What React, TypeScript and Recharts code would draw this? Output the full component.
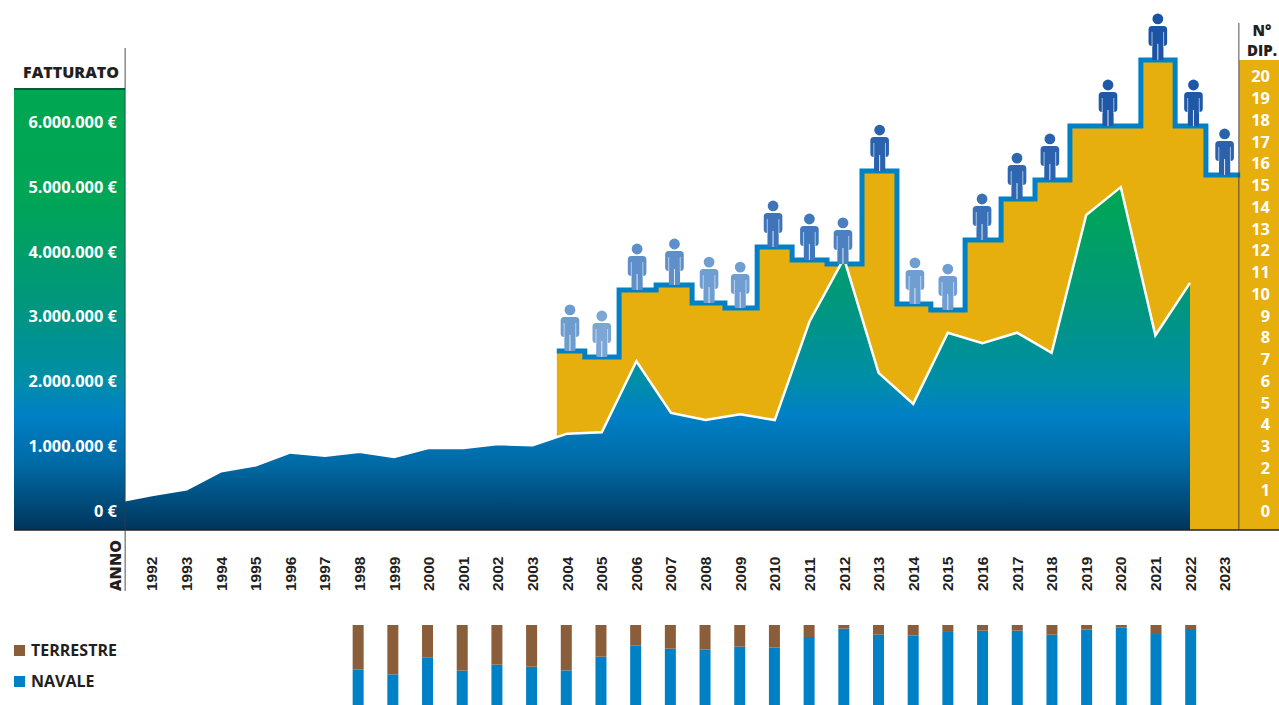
import React from 'react'
import {
  Area,
  Bar,
  BarChart,
  ComposedChart,
  Line,
  XAxis,
  YAxis,
} from 'recharts'

const FONT = '"Open Sans", sans-serif'
const INK = '#231f20'
const YELLOW = '#e6af0e'
const BLUE = '#0081c6'
const BROWN = '#8a5d3b'

// fatturato, in euro, per anno (il primo punto parte dall'asse, prima del 1992)
const fatturatoAnni = [
  1991.22, 1992, 1993, 1994, 1995, 1996, 1997, 1998, 1999, 2000, 2001, 2002, 2003, 2004, 2005, 2006,
  2007, 2008, 2009, 2010, 2011, 2012, 2013, 2014, 2015, 2016, 2017, 2018, 2019, 2020, 2021, 2022,
]
const fatturato = [
  150000, 230000, 320000, 600000, 690000, 890000, 840000, 900000, 820000, 960000, 960000, 1020000,
  1000000, 1180000, 1200000, 2300000, 1500000, 1390000, 1480000, 1390000, 2910000, 3890000, 2120000,
  1640000, 2740000, 2580000, 2740000, 2430000, 4560000, 4990000, 2700000, 3510000,
]

// dipendenti: gradini, ogni valore vale da quell'inizio al successivo
const gradiniInizio = [
  2003.7, 2004.51, 2005.5, 2006.57, 2007.61, 2008.56, 2009.49, 2010.5, 2011.51, 2012.52, 2013.53,
  2014.51, 2015.5, 2016.54, 2017.52, 2018.53, 2020.58, 2021.57, 2022.46, 2023.45,
]
const gradiniDip = [
  7.36, 7.08, 10.16, 10.39, 9.56, 9.33, 12.14, 11.54, 11.36, 15.63, 9.52, 9.24, 12.46, 14.34, 15.22,
  17.7, 20.74, 17.7, 15.45, 15.45,
]

// omini sopra i gradini
const ominiAnni = [
  2004.08, 2005, 2006.02, 2007.1, 2008.1, 2009, 2009.95, 2011, 2011.97, 2013.03, 2014.05, 2015, 2015.99,
  2017, 2017.95, 2019.63, 2021.07, 2022.1, 2023,
]
const ominiDip = [
  7.36, 7.08, 10.16, 10.39, 9.56, 9.33, 12.14, 11.54, 11.36, 15.63, 9.52, 9.24, 12.46, 14.34, 15.22,
  17.7, 20.74, 17.7, 15.45,
]
const ominiColori = [
  '#6f9ccf', '#7ba6d6', '#5f8fc8', '#5f8fc8', '#6f9ed2', '#6f9ed2', '#3f74ba', '#4078bc', '#4d80c0',
  '#2a62ae', '#6f9ed2', '#6f9ed2', '#3a70b6', '#2f66b0', '#2a62ae', '#1f58a6', '#1b54a4', '#1f58a6', '#2a62ae',
]

// ripartizione terrestre / navale
const quotaAnni = [
  1998, 1999, 2000, 2001, 2002, 2003, 2004, 2005, 2006, 2007, 2008, 2009, 2010, 2011, 2012, 2013, 2014,
  2015, 2016, 2017, 2018, 2019, 2020, 2021, 2022,
]
const quotaNavale = [
  0.446, 0.383, 0.596, 0.429, 0.504, 0.479, 0.433, 0.604, 0.746, 0.704, 0.692, 0.729, 0.717, 0.85, 0.954,
  0.879, 0.867, 0.913, 0.929, 0.929, 0.879, 0.942, 0.971, 0.887, 0.95,
]

const anniTick = Array.from({ length: 32 }, (_, i) => 1992 + i)
const euroTick = [0, 1000000, 2000000, 3000000, 4000000, 5000000, 6000000]
const dipTick = Array.from({ length: 21 }, (_, i) => i)

const gradientStops: [number, string][] = [
  [0, '#00a651'],
  [0.25, '#00a556'],
  [0.5, '#009680'],
  [0.66, '#008ea8'],
  [0.74, '#0080c6'],
  [0.85, '#006aa5'],
  [1, '#00355c'],
]

type Row = { anno: number; fatturato?: number; dip?: number; omino?: number; colore?: string }

const byYear = new Map<number, Row>()
const rowAt = (anno: number) => {
  if (!byYear.has(anno)) byYear.set(anno, { anno })
  return byYear.get(anno) as Row
}
fatturatoAnni.forEach((a, i) => { rowAt(a).fatturato = fatturato[i] })
gradiniInizio.forEach((a, i) => { rowAt(a).dip = gradiniDip[i] })
ominiAnni.forEach((a, i) => {
  rowAt(a).omino = ominiDip[i]
  rowAt(a).colore = ominiColori[i]
})
const chartData = [...byYear.values()].sort((a, b) => a.anno - b.anno)

const quotaData = quotaAnni.map((anno, i) => ({
  anno,
  navale: quotaNavale[i],
  terrestre: 1 - quotaNavale[i],
}))

const euroLabel = (v: number) =>
  `${String(v).replace(/\B(?=(\d{3})+$)/g, '.')} €`

function YearTick({ x, payload }: any) {
  return (
    <text
      transform={`translate(${x + 5.5},591) rotate(-90)`}
      fontFamily='"Liberation Sans", Arial, sans-serif'
      fontWeight={700}
      fontSize={15.5}
      fill={INK}
    >
      {payload.value}
    </text>
  )
}

function EuroTick({ y, payload }: any) {
  return (
    <text x={117} y={y + 6.5} textAnchor="end" fontFamily={FONT} fontWeight={700} fontSize={16.4} fill="#fff">
      {euroLabel(payload.value)}
    </text>
  )
}

function DipTick({ y, payload }: any) {
  return (
    <text x={1270} y={y + 6.5} textAnchor="end" fontFamily={FONT} fontWeight={700} fontSize={16.4} fill="#fff">
      {payload.value}
    </text>
  )
}

function Omino({ cx, cy, payload }: any) {
  if (cy == null || payload.omino == null) return <g />
  const c = payload.colore
  const gap = '#dfe9f5'
  return (
    <g transform={`translate(${cx},${cy})`}>
      <circle cx={0} cy={-41} r={5.4} fill={c} />
      <rect x={-9.3} y={-34} width={18.6} height={20} rx={3.5} fill={c} />
      <rect x={-5.6} y={-30} width={11.2} height={30} rx={1.5} fill={c} />
      <line x1={-5.8} y1={-28} x2={-5.8} y2={-13} stroke={gap} strokeWidth={0.7} />
      <line x1={5.8} y1={-28} x2={5.8} y2={-13} stroke={gap} strokeWidth={0.7} />
      <line x1={0} y1={-16} x2={0} y2={0} stroke={gap} strokeWidth={1} />
    </g>
  )
}

export default function App() {
  return (
    <div style={{ position: 'absolute', left: 0, top: 0, width: 1279, height: 705, overflow: 'hidden', background: '#fff' }}>
      <div
        style={{
          position: 'absolute',
          left: 14,
          top: 89,
          width: 111,
          height: 441,
          background: `linear-gradient(to bottom, ${gradientStops
            .map(([o, c]) => `${c} ${o * 100}%`)
            .join(', ')})`,
        }}
      />
      <div style={{ position: 'absolute', left: 1239, top: 60, width: 40, height: 470, background: YELLOW }} />

      <ComposedChart
        width={1279}
        height={705}
        data={chartData}
        margin={{ top: 0, right: 0, bottom: 0, left: 14 }}
      >
        <defs>
          <linearGradient id="fatturatoFill" gradientUnits="userSpaceOnUse" x1={0} y1={89} x2={0} y2={530}>
            {gradientStops.map(([o, c]) => (
              <stop key={o} offset={o} stopColor={c} />
            ))}
          </linearGradient>
        </defs>
        <XAxis
          dataKey="anno"
          type="number"
          domain={[1988.012, 2024.572]}
          ticks={anniTick}
          interval={0}
          height={175}
          tick={<YearTick />}
          tickLine={false}
          axisLine={{ stroke: '#222', strokeWidth: 1.5 }}
          allowDataOverflow
        />
        <YAxis
          yAxisId="eur"
          orientation="left"
          mirror
          width={60}
          type="number"
          domain={[-309100, 7882500]}
          ticks={euroTick}
          interval={0}
          tick={<EuroTick />}
          tickLine={false}
          axisLine={false}
          allowDataOverflow
        />
        <YAxis
          yAxisId="dip"
          orientation="right"
          mirror
          width={60}
          type="number"
          domain={[-0.8736, 23.494]}
          ticks={dipTick}
          interval={0}
          tick={<DipTick />}
          tickLine={false}
          axisLine={false}
          allowDataOverflow
        />
        <Area
          yAxisId="dip"
          dataKey="dip"
          type="stepAfter"
          connectNulls
          baseValue="dataMin"
          stroke={BLUE}
          strokeWidth={5}
          fill={YELLOW}
          fillOpacity={1}
          dot={false}
          activeDot={false}
          isAnimationActive={false}
        />
        <Area
          yAxisId="eur"
          dataKey="fatturato"
          type="linear"
          connectNulls
          baseValue="dataMin"
          stroke="#fff"
          strokeWidth={2.5}
          fill="url(#fatturatoFill)"
          fillOpacity={1}
          dot={false}
          activeDot={false}
          isAnimationActive={false}
        />
        <Line
          yAxisId="dip"
          dataKey="omino"
          stroke="none"
          dot={<Omino />}
          activeDot={false}
          isAnimationActive={false}
        />
      </ComposedChart>

      <div style={{ position: 'absolute', left: -0.5, top: 625 }}>
        <BarChart width={1279} height={80} data={quotaData} margin={{ top: 0, right: 0, bottom: 0, left: 0 }}>
          <XAxis dataKey="anno" type="number" domain={[1987.68, 2024.55]} hide allowDataOverflow />
          <YAxis domain={[0, 1]} hide />
          <Bar dataKey="navale" stackId="q" fill={BLUE} barSize={11} isAnimationActive={false} />
          <Bar dataKey="terrestre" stackId="q" fill={BROWN} barSize={11} isAnimationActive={false} />
        </BarChart>
      </div>

      <svg width={1279} height={705} style={{ position: 'absolute', left: 0, top: 0, pointerEvents: 'none' }}>
        <line x1={125.2} y1={48} x2={125.2} y2={591} stroke="#3a3a3a" strokeOpacity={0.6} strokeWidth={1.5} />
        <line x1={1238.8} y1={23} x2={1238.8} y2={530} stroke="#3a3a3a" strokeOpacity={0.6} strokeWidth={1.5} />
        <line x1={14} y1={89} x2={125} y2={89} stroke="#0b5a35" strokeWidth={2} />
        <text x={119} y={78} textAnchor="end" fontFamily={FONT} fontWeight={800} fontSize={16} fill={INK}>
          FATTURATO
        </text>
        <text x={1262} y={36} textAnchor="middle" fontFamily={FONT} fontWeight={800} fontSize={15} fill={INK}>
          N°
        </text>
        <text x={1262} y={56} textAnchor="middle" fontFamily={FONT} fontWeight={800} fontSize={15} fill={INK}>
          DIP.
        </text>
        <text transform="translate(121,591) rotate(-90)" fontFamily={FONT} fontWeight={800} fontSize={16} fill={INK}>
          ANNO
        </text>
        <rect x={14} y={645} width={11} height={11} fill={BROWN} />
        <text x={31} y={655.5} fontFamily={FONT} fontWeight={700} fontSize={16} fill={INK}>
          TERRESTRE
        </text>
        <rect x={14} y={676} width={11} height={11} fill={BLUE} />
        <text x={31} y={686.5} fontFamily={FONT} fontWeight={700} fontSize={16} fill={INK}>
          NAVALE
        </text>
      </svg>
    </div>
  )
}
